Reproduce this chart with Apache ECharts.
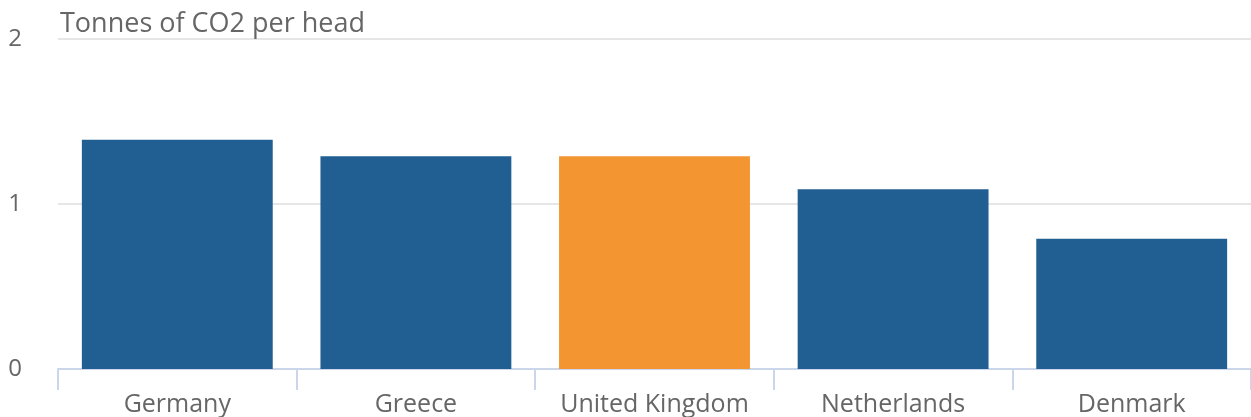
<!DOCTYPE html>
<html>
<head>
<meta charset="utf-8">
<script src="https://cdn.jsdelivr.net/npm/echarts@6/dist/echarts.min.js"></script>
<style>
  html, body { margin: 0; padding: 0; background: #ffffff; }
  #chart { width: 1251px; height: 417px; }
</style>
</head>
<body>
<div id="chart"></div>
<script>
// CO2 emissions per head by country
const countries = ['Germany', 'Greece', 'United Kingdom', 'Netherlands', 'Denmark'];
const tonnesPerHead = [1.39, 1.29, 1.29, 1.09, 0.79];
const highlighted = 'United Kingdom';
const yTicks = [0, 1, 2];

const BLUE = '#215f93';
const ORANGE = '#f39530';
const FONT = '"Open Sans", sans-serif';

const chart = echarts.init(document.getElementById('chart'), null, { renderer: 'canvas' });

chart.setOption({
  animation: false,
  title: {
    text: 'Tonnes of CO2 per head',
    left: 55,
    top: 6,
    textStyle: { fontFamily: FONT, fontSize: 27, fontWeight: 'normal', color: '#666666' }
  },
  grid: { left: 58, right: 0, top: 39, bottom: 47, containLabel: false },
  xAxis: {
    type: 'category',
    data: countries,
    axisLine: { lineStyle: { color: '#ccd6eb', width: 2 } },
    axisTick: { show: true, interval: 0, length: 21, lineStyle: { color: '#ccd6eb', width: 2 } },
    axisLabel: { interval: 0, hideOverlap: false, fontFamily: FONT, fontSize: 25, color: '#666666', margin: 23 }
  },
  yAxis: {
    type: 'value',
    min: yTicks[0],
    max: yTicks[yTicks.length - 1],
    interval: 1,
    axisLine: { show: false },
    axisTick: { show: false },
    splitLine: { lineStyle: { color: '#e6e6e6', width: 2 } },
    axisLabel: { fontFamily: FONT, fontSize: 24, color: '#666666', margin: 36 }
  },
  series: [{
    type: 'bar',
    barCategoryGap: '20%',
    data: tonnesPerHead.map((v, i) => ({
      value: v,
      itemStyle: { color: countries[i] === highlighted ? ORANGE : BLUE }
    }))
  }]
});
</script>
</body>
</html>
